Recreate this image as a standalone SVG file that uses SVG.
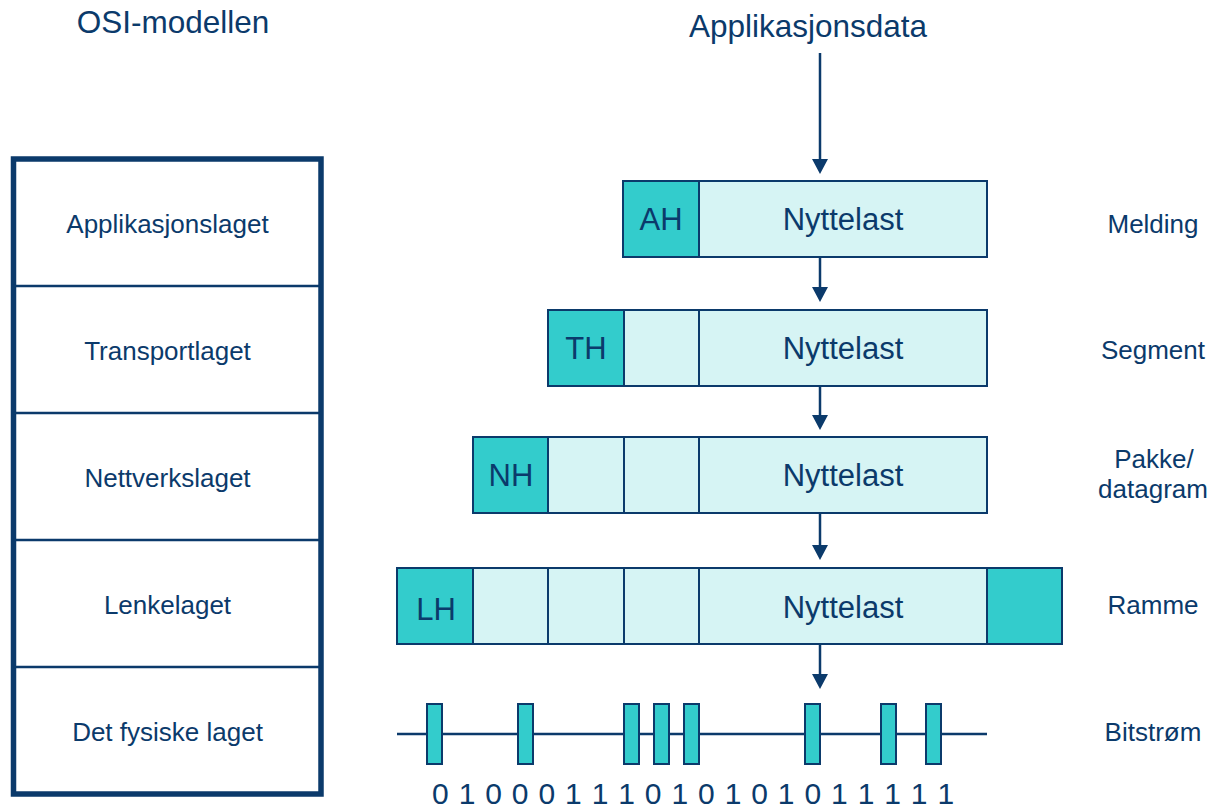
<svg xmlns="http://www.w3.org/2000/svg" width="1213" height="810" viewBox="0 0 1213 810">
  <style>
    text { font-family: "Liberation Sans", Arial, sans-serif; fill: #0B3A6B; }
    .title { font-size: 31.5px; text-anchor: middle; }
    .layer { font-size: 26px; text-anchor: middle; }
    .unit { font-size: 26px; text-anchor: middle; }
    .field { font-size: 31px; text-anchor: middle; }
    .bits { font-size: 30px; text-anchor: middle; }
    .hdr { fill: #33CCCC; stroke: #0B3A6B; stroke-width: 2; }
    .pay { fill: #D6F4F4; stroke: #0B3A6B; stroke-width: 2; }
    .bit { fill: #33CCCC; stroke: #0B3A6B; stroke-width: 2; }
    .conn { stroke: #0B3A6B; stroke-width: 2.5; fill: none; }
  </style>
  <defs>
    <marker id="head" markerUnits="userSpaceOnUse" markerWidth="16" markerHeight="16" refX="7" refY="8" orient="auto">
      <path d="M0,0 L15,8 L0,16 Z" fill="#0B3A6B"/>
    </marker>
  </defs>

  <rect width="1213" height="810" fill="#FFFFFF"/>

  <!-- Titles -->
  <text class="title" x="173" y="33">OSI-modellen</text>
  <text class="title" x="808" y="37">Applikasjonsdata</text>

  <!-- OSI layer stack -->
  <g id="osi-stack">
    <rect x="13.5" y="159" width="307.5" height="635" fill="none" stroke="#0B3A6B" stroke-width="5.5"/>
    <g stroke="#0B3A6B" stroke-width="2.5">
      <line x1="13.5" y1="286" x2="321" y2="286"/>
      <line x1="13.5" y1="413" x2="321" y2="413"/>
      <line x1="13.5" y1="540" x2="321" y2="540"/>
      <line x1="13.5" y1="667" x2="321" y2="667"/>
    </g>
  </g>
  <g id="layer-application"><text class="layer" x="167.5" y="232.5">Applikasjonslaget</text></g>
  <g id="layer-transport"><text class="layer" x="167.5" y="359.5">Transportlaget</text></g>
  <g id="layer-network"><text class="layer" x="167.5" y="486.5">Nettverkslaget</text></g>
  <g id="layer-link"><text class="layer" x="167.5" y="613.5">Lenkelaget</text></g>
  <g id="layer-physical"><text class="layer" x="167.5" y="740.5">Det fysiske laget</text></g>

  <!-- Connectors -->
  <g id="connectors">
    <line class="conn" x1="820" y1="53" x2="820" y2="166" marker-end="url(#head)"/>
    <line class="conn" x1="820" y1="257" x2="820" y2="294" marker-end="url(#head)"/>
    <line class="conn" x1="820" y1="386" x2="820" y2="422" marker-end="url(#head)"/>
    <line class="conn" x1="820" y1="513" x2="820" y2="552" marker-end="url(#head)"/>
    <line class="conn" x1="820" y1="644" x2="820" y2="681" marker-end="url(#head)"/>
  </g>

  <!-- Message -->
  <g id="message">
    <rect class="hdr" x="623" y="181" width="76" height="76"/>
    <rect class="pay" x="699" y="181" width="288" height="76"/>
    <text class="field" x="661" y="230">AH</text>
    <text class="field" x="843" y="230">Nyttelast</text>
  </g>

  <!-- Segment -->
  <g id="segment">
    <rect class="hdr" x="548" y="310" width="76" height="76"/>
    <rect class="pay" x="624" y="310" width="75" height="76"/>
    <rect class="pay" x="699" y="310" width="288" height="76"/>
    <text class="field" x="586" y="359">TH</text>
    <text class="field" x="843" y="359">Nyttelast</text>
  </g>

  <!-- Packet / datagram -->
  <g id="packet">
    <rect class="hdr" x="473" y="437" width="75" height="76"/>
    <rect class="pay" x="548" y="437" width="76" height="76"/>
    <rect class="pay" x="624" y="437" width="75" height="76"/>
    <rect class="pay" x="699" y="437" width="288" height="76"/>
    <text class="field" x="511" y="486">NH</text>
    <text class="field" x="843" y="486">Nyttelast</text>
  </g>

  <!-- Frame -->
  <g id="frame">
    <rect class="hdr" x="397" y="568" width="76" height="76"/>
    <rect class="pay" x="473" y="568" width="75" height="76"/>
    <rect class="pay" x="548" y="568" width="76" height="76"/>
    <rect class="pay" x="624" y="568" width="75" height="76"/>
    <rect class="pay" x="699" y="568" width="288" height="76"/>
    <rect class="hdr" x="987" y="568" width="75" height="76"/>
    <text class="field" x="436" y="620">LH</text>
    <text class="field" x="843" y="618">Nyttelast</text>
  </g>

  <!-- Bit stream -->
  <g id="bitstream">
    <line x1="397" y1="734" x2="987" y2="734" stroke="#0B3A6B" stroke-width="2.5"/>
    <rect class="bit" x="427" y="704" width="15" height="60"/>
    <rect class="bit" x="518" y="704" width="15" height="60"/>
    <rect class="bit" x="624" y="704" width="15" height="60"/>
    <rect class="bit" x="654" y="704" width="15" height="60"/>
    <rect class="bit" x="684" y="704" width="15" height="60"/>
    <rect class="bit" x="805" y="704" width="15" height="60"/>
    <rect class="bit" x="881" y="704" width="15" height="60"/>
    <rect class="bit" x="926" y="704" width="15" height="60"/>
    <text class="bits" y="804" x="440.4 467 493.6 520.2 546.8 573.4 600 626.6 653.2 679.8 706.4 733 759.6 786.2 812.8 839.4 866 892.6 919.2 945.8">01000111010101011111</text>
  </g>

  <!-- Data unit names -->
  <g id="unit-message"><text class="unit" x="1153" y="232.5">Melding</text></g>
  <g id="unit-segment"><text class="unit" x="1153" y="358.5">Segment</text></g>
  <g id="unit-packet">
    <text class="unit" x="1154" y="468">Pakke/</text>
    <text class="unit" x="1153" y="498">datagram</text>
  </g>
  <g id="unit-frame"><text class="unit" x="1153" y="613.5">Ramme</text></g>
  <g id="unit-bits"><text class="unit" x="1153" y="740.5">Bitstrøm</text></g>
</svg>
